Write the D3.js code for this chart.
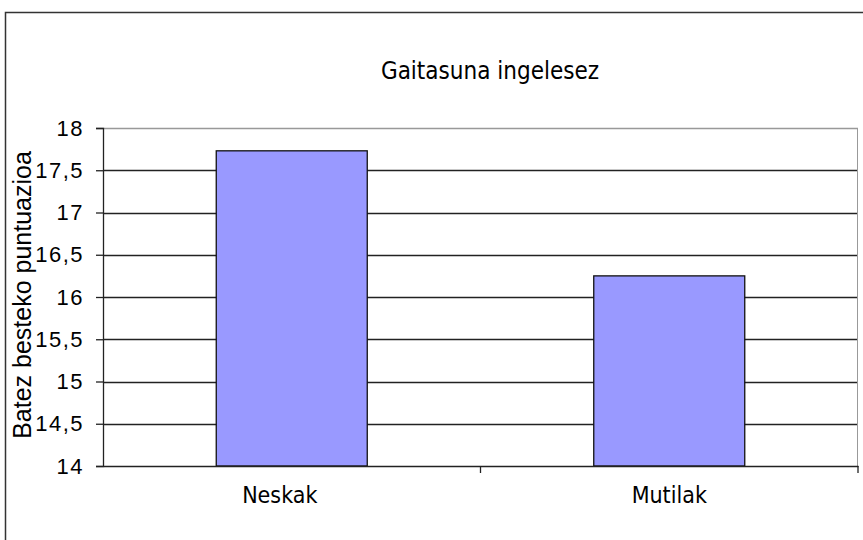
<!DOCTYPE html>
<html>
<head>
<meta charset="utf-8">
<script src="https://cdn.jsdelivr.net/npm/d3@7"></script>
<style>
  body { margin: 0; background: #fff; }
  text { font-family: "Liberation Sans", Arial, sans-serif; fill: #000; }
</style>
</head>
<body>
<div class="chart"></div>
<script>
var categories = ["Neskak", "Mutilak"];
var values = [17.73, 16.25];
var tickValues = [14, 14.5, 15, 15.5, 16, 16.5, 17, 17.5, 18];
var tickLabels = ["14", "14,5", "15", "15,5", "16", "16,5", "17", "17,5", "18"];

var svgWidth = 863;
var svgHeight = 540;

var margin = { top: 128, right: 5, bottom: 74, left: 103 };
var width = svgWidth - margin.left - margin.right;
var height = svgHeight - margin.top - margin.bottom;

var svg = d3.select(".chart")
  .append("svg")
  .attr("width", svgWidth)
  .attr("height", svgHeight);

// outer chart frame (runs off the right and bottom)
svg.append("rect")
  .attr("x", 5.5)
  .attr("y", 12.5)
  .attr("width", 900)
  .attr("height", 600)
  .attr("fill", "none")
  .attr("stroke", "#333")
  .attr("stroke-width", 1.5);

var chartGroup = svg.append("g")
  .attr("transform", `translate(${margin.left}, ${margin.top})`);

var xScale = d3.scaleBand()
  .domain(categories)
  .range([0, width])
  .paddingInner(0.6)
  .paddingOuter(0.3);

var xBand = d3.scaleBand()
  .domain(categories)
  .range([0, width]);

var yScale = d3.scaleLinear()
  .domain([14, 18])
  .range([height, 0]);

// gridlines
chartGroup.selectAll(".grid")
  .data(tickValues.slice(1))
  .enter()
  .append("line")
  .attr("x1", 0)
  .attr("x2", width)
  .attr("y1", d => Math.round(yScale(d)) + 0.5)
  .attr("y2", d => Math.round(yScale(d)) + 0.5)
  .attr("stroke", d => d === 18 ? "#999" : "#222")
  .attr("stroke-width", 1.3);

// right edge of plot area
chartGroup.append("line")
  .attr("x1", width - 0.5).attr("x2", width - 0.5)
  .attr("y1", 0).attr("y2", height)
  .attr("stroke", "#999");

// bars
chartGroup.selectAll("rect.bar")
  .data(values)
  .enter()
  .append("rect")
  .attr("class", "bar")
  .attr("x", (d, i) => xScale(categories[i]))
  .attr("y", d => yScale(d))
  .attr("width", xScale.bandwidth())
  .attr("height", d => height - yScale(d))
  .attr("fill", "#9999ff")
  .attr("stroke", "#111")
  .attr("stroke-width", 1.3);

// y axis
var leftAxis = d3.axisLeft(yScale)
  .tickValues(tickValues)
  .tickFormat((d, i) => tickLabels[i])
  .tickSize(7)
  .tickPadding(12);

var yAxisG = chartGroup.append("g").call(leftAxis);
yAxisG.select(".domain").attr("stroke", "#222").attr("stroke-width", 1.3);
yAxisG.selectAll(".tick line").attr("stroke", "#222").attr("stroke-width", 1.3);
yAxisG.selectAll(".tick text")
  .style("font-size", "22px")
  .style("letter-spacing", "1.5px")
  .style("font-family", "Liberation Sans, Arial, sans-serif")
  .attr("fill", "#000");

// x axis
var bottomAxis = d3.axisBottom(xBand)
  .tickSize(0)
  .tickPadding(21);

var xAxisG = chartGroup.append("g")
  .attr("transform", `translate(0, ${height})`)
  .call(bottomAxis);
xAxisG.select(".domain").attr("stroke", "#222").attr("stroke-width", 1.3);
xAxisG.selectAll(".tick text")
  .style("font-size", "23px")
  .style("font-family", "DejaVu Sans Condensed, DejaVu Sans, sans-serif")
  .attr("fill", "#000")
  .attr("dx", (d, i) => i === 0 ? -12 : 0);  // first label sits a bit left in the original

// category separator ticks
chartGroup.selectAll(".sep")
  .data(categories)
  .enter()
  .append("line")
  .attr("x1", d => xBand(d) + xBand.bandwidth())
  .attr("x2", d => xBand(d) + xBand.bandwidth())
  .attr("y1", height)
  .attr("y2", height + 7)
  .attr("stroke", "#222")
  .attr("stroke-width", 1.3);

// title
svg.append("text")
  .attr("x", 490)
  .attr("y", 79)
  .attr("text-anchor", "middle")
  .style("font-family", "DejaVu Sans Condensed, DejaVu Sans, sans-serif")
  .style("font-size", "24px")
  .text("Gaitasuna ingelesez");

// y axis title
svg.append("text")
  .attr("transform", "rotate(-90)")
  .attr("x", -295)
  .attr("y", 31)
  .attr("text-anchor", "middle")
  .style("font-size", "25px")
  .text("Batez besteko puntuazioa");
</script>
</body>
</html>
